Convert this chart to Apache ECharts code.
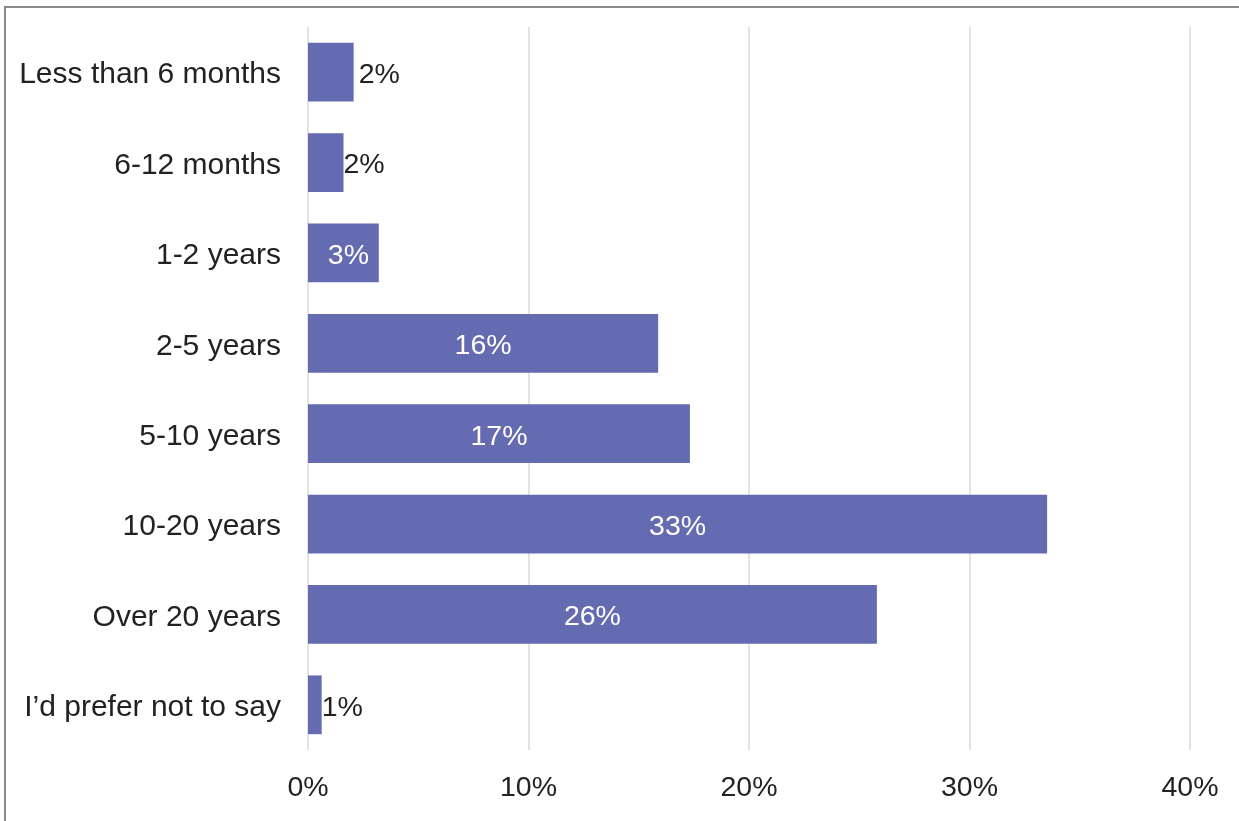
<!DOCTYPE html>
<html>
<head>
<meta charset="utf-8">
<script src="https://cdn.jsdelivr.net/npm/echarts@6/dist/echarts.min.js"></script>
<style>
html,body{margin:0;padding:0;background:#fff;}
#chart{width:1239px;height:821px;}
</style>
</head>
<body>
<div id="chart"></div>
<script>
const categories = ["Less than 6 months","6-12 months","1-2 years","2-5 years","5-10 years","10-20 years","Over 20 years","I\u2019d prefer not to say"];
const values = [2.07, 1.61, 3.21, 15.88, 17.32, 33.52, 25.8, 0.62];
const valueLabels = ["2%","2%","3%","16%","17%","33%","26%","1%"];
const xTicks = [0, 10, 20, 30, 40];

const FONT = '"Liberation Sans", Arial, sans-serif';
const labelStyles = [
  {position:'right', distance:5, offset:[0,3], color:'#222'},
  {position:'right', distance:0, offset:[0,3], color:'#222'},
  {position:'inside', offset:[5,3], color:'#fff'},
  {position:'inside', offset:[0,3], color:'#fff'},
  {position:'inside', offset:[0,3], color:'#fff'},
  {position:'inside', offset:[0,3], color:'#fff'},
  {position:'inside', offset:[0,3], color:'#fff'},
  {position:'right', distance:0, offset:[0,3], color:'#222'}
];

const data = values.map((v,i)=>({
  value: v,
  label: Object.assign({show:true, fontSize:28.5, fontFamily:FONT, formatter: valueLabels[i]}, labelStyles[i])
}));

const chart = echarts.init(document.getElementById('chart'), null, {renderer:'canvas'});
chart.setOption({
  animation:false,
  backgroundColor:'#fff',
  graphic:[{
    type:'rect', shape:{x:5, y:7, width:1400, height:1000},
    style:{fill:'none', stroke:'#8a8a8a', lineWidth:2}, silent:true, z:100
  }],
  grid:{left:308, right:49, top:27, bottom:71, containLabel:false},
  xAxis:{
    type:'value', min:xTicks[0], max:xTicks[xTicks.length-1], interval:10,
    axisLine:{show:false}, axisTick:{show:false},
    splitLine:{show:true, lineStyle:{color:'#e3e3e3', width:2}},
    axisLabel:{formatter:'{value}%', fontSize:28.5, fontFamily:FONT, color:'#222', margin:24}
  },
  yAxis:{
    type:'category', data:categories, inverse:true,
    axisLine:{show:false}, axisTick:{show:false},
    axisLabel:{
      margin:27,
      formatter: v => '{a|' + v + '}',
      rich:{a:{fontSize:30, fontFamily:FONT, color:'#222', padding:[6,0,0,0]}}
    }
  },
  series:[{
    type:'bar', data:data, barWidth:'65%',
    itemStyle:{color:'#646BB0'}
  }]
});
</script>
</body>
</html>
